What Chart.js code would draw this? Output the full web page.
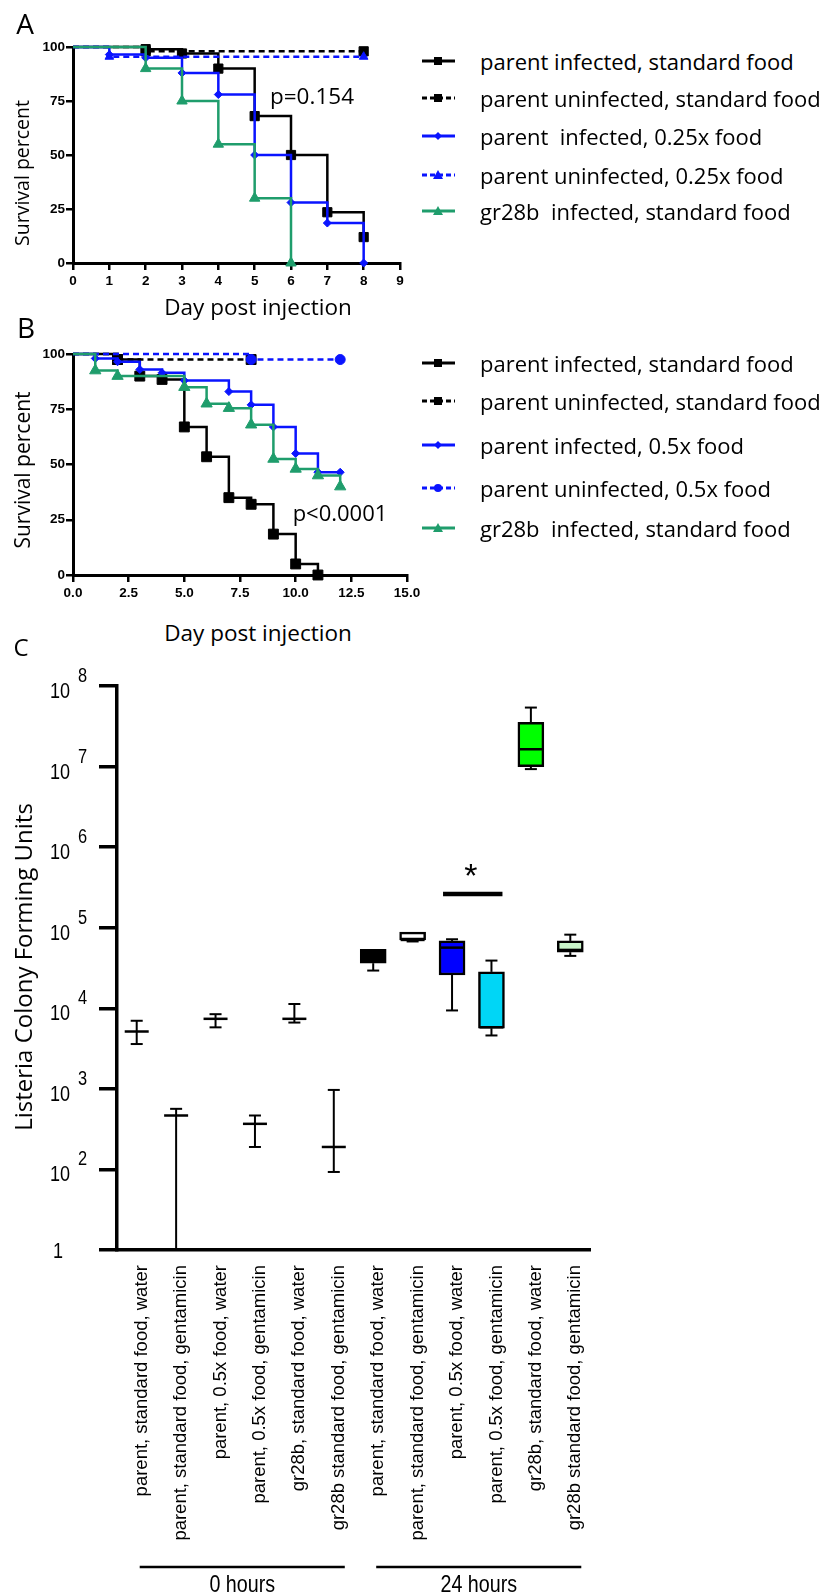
<!DOCTYPE html>
<html>
<head>
<meta charset="utf-8">
<script src="https://cdn.jsdelivr.net/npm/chart.js@4.4.1/dist/chart.umd.min.js"></script>
<style>
  html, body { margin: 0; padding: 0; background: #fff; }
  #page { position: relative; width: 828px; height: 1596px; overflow: hidden; font-family: "Open Sans", sans-serif; color: #000; }
  canvas { position: absolute; }
  .txt { position: absolute; white-space: pre; line-height: 1; transform: translate(-50%, -50%); }
  .rot { transform: translate(-50%, -50%) rotate(-90deg); }
  .legend-row { position: absolute; left: 421px; display: flex; align-items: center; transform: translateY(-50%); }
  .legend-row span { margin-left: 23px; font-size: 22px; line-height: 1; white-space: pre; }
</style>
</head>
<body>
<div id="page">
  <canvas id="chartA" width="420" height="300" style="left:0;top:0"></canvas>
  <canvas id="chartB" width="430" height="290" style="left:0;top:320px"></canvas>
  <canvas id="chartC" width="620" height="936" style="left:0;top:660px"></canvas>

  <div class="txt" style="left:25px;top:23px;font-size:28px">A</div>
  <div class="txt" style="left:26px;top:327px;font-size:28px">B</div>
  <div class="txt" style="left:21px;top:647px;font-size:24px">C</div>

  <div class="txt rot" style="left:22px;top:173px;font-size:19.5px">Survival percent</div>
  <div class="txt rot" style="left:22px;top:470px;font-size:21px">Survival percent</div>
  <div class="txt" style="left:258px;top:307px;font-size:22.5px">Day post injection</div>
  <div class="txt" style="left:258px;top:633px;font-size:22.5px">Day post injection</div>
  <div class="txt" style="left:312px;top:96px;font-size:22.5px">p=0.154</div>
  <div class="txt" style="left:340px;top:512px;font-size:22px">p&lt;0.0001</div>
  <div class="txt rot" style="left:23px;top:967px;font-size:24px">Listeria Colony Forming Units</div>

  <div id="legendA"></div>
  <div id="legendB"></div>
</div>

<script>
// ---------- Panel A: survival (%) by day post injection ----------
const aXTicks = [0, 1, 2, 3, 4, 5, 6, 7, 8, 9];
const aYTicks = [0, 25, 50, 75, 100];
const aLabels = ['parent infected, standard food', 'parent uninfected, standard food',
                 'parent  infected, 0.25x food', 'parent uninfected, 0.25x food',
                 'gr28b  infected, standard food'];
const aBlackSolidDays = [0, 2, 3, 4, 5, 6, 7, 8];
const aBlackSolidPct  = [100, 99, 97, 90, 68, 50, 23.5, 12];
const aBlackDashDays  = [0, 2, 8];
const aBlackDashPct   = [100, 98, 98];
const aBlueSolidDays  = [0, 1, 2, 3, 4, 5, 6, 7, 8];
const aBlueSolidPct   = [100, 96.5, 95, 88, 78, 50, 28, 18.5, 0];
const aBlueDashDays   = [0, 1, 8];
const aBlueDashPct    = [100, 95.5, 95.5];
const aGreenDays      = [0, 2, 3, 4, 5, 6];
const aGreenPct       = [100, 90, 75, 55, 30, 0];

// ---------- Panel B ----------
const bXTicks = [0, 2.5, 5, 7.5, 10, 12.5, 15];
const bXTickLabels = ['0.0', '2.5', '5.0', '7.5', '10.0', '12.5', '15.0'];
const bYTicks = [0, 25, 50, 75, 100];
const bLabels = ['parent infected, standard food', 'parent uninfected, standard food',
                 'parent infected, 0.5x food', 'parent uninfected, 0.5x food',
                 'gr28b  infected, standard food'];
const bBlackSolidDays = [0, 2, 3, 4, 5, 6, 7, 8, 9, 10, 11];
const bBlackSolidPct  = [100, 97.5, 90, 88.5, 67, 53.5, 35, 32, 18.5, 5, 0];
const bBlackDashDays  = [0, 2, 8];
const bBlackDashPct   = [100, 97.5, 97.5];
const bBlueSolidDays  = [0, 1, 2, 3, 4, 5, 7, 8, 9, 10, 11, 12];
const bBlueSolidPct   = [100, 98, 96.5, 93, 91.5, 88, 83, 77, 67, 55, 46.5, 46.5];
const bBlueDashDays   = [0, 8, 12];
const bBlueDashPct    = [100, 97.5, 97.5];
const bGreenDays      = [0, 1, 2, 5, 6, 7, 8, 9, 10, 11, 12];
const bGreenPct       = [100, 92.5, 90, 85, 77.5, 75.5, 68, 52.5, 48, 45, 40];

// ---------- Panel C: Listeria CFU box plots ----------
const cfuGroups = ['parent, standard food, water', 'parent, standard food, gentamicin',
                   'parent, 0.5x food, water', 'parent, 0.5x food, gentamicin',
                   'gr28b, standard food, water', 'gr28b standard food, gentamicin',
                   'parent, standard food, water', 'parent, standard food, gentamicin',
                   'parent, 0.5x food, water', 'parent, 0.5x food, gentamicin',
                   'gr28b, standard food, water', 'gr28b standard food, gentamicin'];
const cfuMin    = [3600, 10, 5800, 190, 6650, 93, 29400, 67500, 9400, 4600, 9.3e6, 44700];
const cfuQ1     = [5150, 467, 7400, 368, 7400, 190, 36300, 70500, 25900, 5660, 1.0e7, 49700];
const cfuMedian = [5150, 467, 7400, 368, 7400, 190, 45000, 70500, 56600, 5800, 1.64e7, 53000];
const cfuQ3     = [5150, 467, 7400, 368, 7400, 190, 54100, 88000, 68500, 28300, 3.55e7, 68500];
const cfuMax    = [7000, 565, 8450, 467, 11300, 970, 54100, 88000, 71900, 39100, 5.4e7, 82000];
const cfuTickExps = [1, 2, 3, 4, 5, 6, 7, 8];
const timeGroupLabels = ['0 hours', '24 hours'];
const timeGroupFirst = [0, 6];
const timeGroupLast = [5, 11];
const sigPair = [8, 9];
const sigLevel = 2.62e5;

const boxFill = ['#fff', '#fff', '#fff', '#fff', '#fff', '#fff',
                 '#000000', '#ffffff', '#0000ff', '#00d6f6', '#00ff00', '#c9f5c9'];
const BLUE = '#0a14ff';
const GREEN = '#1f9d6c';

function kmSet(label, days, pct, color, dashed, pointStyle, radius, order) {
  return {
    label: label,
    data: days.map((d, i) => ({ x: d, y: pct[i] })),
    borderColor: color,
    backgroundColor: color,
    pointBackgroundColor: color,
    pointBorderColor: color,
    pointBorderWidth: 1,
    borderWidth: 2.5,
    borderDash: dashed ? [6, 4] : [],
    stepped: 'before',
    pointStyle: pointStyle,
    pointRadius: days.map((d, i) => (i === 0 ? 0 : radius)),
    pointHoverRadius: 0,
    clip: false,
    order: order
  };
}

function axisStyle() {
  return {
    grid: { display: true, drawOnChartArea: false, drawTicks: true, tickLength: 7, lineWidth: 2.5, color: '#000' },
    border: { display: true, width: 3, color: '#000' }
  };
}

function survivalOptions(xMax, xTicks, xLabels, yTicks, xHeight, pad) {
  const tickFont = { family: '"Liberation Sans", Arial, sans-serif', weight: 'bold', size: 13.5 };
  return {
    responsive: false,
    animation: false,
    devicePixelRatio: 1,
    layout: { padding: pad },
    plugins: { legend: { display: false }, tooltip: { enabled: false } },
    scales: {
      x: Object.assign(axisStyle(), {
        type: 'linear', min: 0, max: xMax,
        afterBuildTicks: s => { s.ticks = xTicks.map(v => ({ value: v })); },
        ticks: { font: tickFont, color: '#000', padding: 3, maxRotation: 0,
                 callback: (v, i) => xLabels[i] },
        afterFit: s => { s.height = xHeight; }
      }),
      y: Object.assign(axisStyle(), {
        type: 'linear', min: 0, max: 100,
        afterBuildTicks: s => { s.ticks = yTicks.map(v => ({ value: v })); },
        ticks: { font: tickFont, color: '#000', padding: 1 },
        afterFit: s => { s.width = 73; }
      })
    }
  };
}

const dsA = [
  kmSet(aLabels[0], aBlackSolidDays, aBlackSolidPct, '#000', false, 'rect', 6.5, 3),
  kmSet(aLabels[1], aBlackDashDays, aBlackDashPct, '#000', true, 'rect', 6.5, 4),
  kmSet(aLabels[2], aBlueSolidDays, aBlueSolidPct, BLUE, false, 'rectRot', 4, 1),
  kmSet(aLabels[3], aBlueDashDays, aBlueDashPct, BLUE, true, 'triangle', 5, 2),
  kmSet(aLabels[4], aGreenDays, aGreenPct, GREEN, false, 'triangle', 6, 0)
];
const dsB = [
  kmSet(bLabels[0], bBlackSolidDays, bBlackSolidPct, '#000', false, 'rect', 7, 3),
  kmSet(bLabels[1], bBlackDashDays, bBlackDashPct, '#000', true, 'rect', 7, 4),
  kmSet(bLabels[2], bBlueSolidDays, bBlueSolidPct, BLUE, false, 'rectRot', 4, 1),
  kmSet(bLabels[3], bBlueDashDays, bBlueDashPct, BLUE, true, 'circle', 5, 2),
  kmSet(bLabels[4], bGreenDays, bGreenPct, GREEN, false, 'triangle', 6.5, 0)
];

new Chart(document.getElementById('chartA'), {
  type: 'line',
  data: { datasets: dsA },
  options: survivalOptions(9, aXTicks, aXTicks.map(String), aYTicks, 37, { top: 47, right: 20, bottom: 0, left: 0 })
});
new Chart(document.getElementById('chartB'), {
  type: 'line',
  data: { datasets: dsB },
  options: survivalOptions(15, bXTicks, bXTickLabels, bYTicks, 35, { top: 34, right: 23, bottom: 0, left: 0 })
});

// legend rows built from the dataset styles
function legendSymbol(ds) {
  const c = ds.borderColor;
  const dash = ds.borderDash.length ? ' stroke-dasharray="5 3"' : '';
  const cx = 17, cy = 8;
  let m = '';
  if (ds.pointStyle === 'rect') m = `<rect x="${cx - 4}" y="${cy - 4}" width="8" height="8" fill="${c}"/>`;
  if (ds.pointStyle === 'rectRot') m = `<polygon points="${cx},${cy - 4} ${cx + 4},${cy} ${cx},${cy + 4} ${cx - 4},${cy}" fill="${c}"/>`;
  if (ds.pointStyle === 'triangle') m = `<polygon points="${cx},${cy - 5} ${cx + 5},${cy + 4} ${cx - 5},${cy + 4}" fill="${c}"/>`;
  if (ds.pointStyle === 'circle') m = `<circle cx="${cx}" cy="${cy}" r="4" fill="${c}"/>`;
  return `<svg width="36" height="16"><line x1="1" y1="8" x2="34" y2="8" stroke="${c}" stroke-width="3"${dash}/>${m}</svg>`;
}
function buildLegend(id, datasets, rows) {
  document.getElementById(id).innerHTML = datasets.map((ds, i) =>
    `<div class="legend-row" style="top:${rows[i]}px">${legendSymbol(ds)}<span>${ds.label}</span></div>`
  ).join('');
}
buildLegend('legendA', dsA, [61, 98, 136, 175, 211]);
buildLegend('legendB', dsB, [363, 401, 445, 488, 528]);

// whiskers, medians, log tick labels, significance bar and time groups
function narrowText(ctx, text, x, y, size, align) {
  ctx.save();
  ctx.translate(x, y);
  ctx.scale(0.82, 1);
  ctx.font = size + 'px "Liberation Sans", Arial, sans-serif';
  ctx.textAlign = align;
  ctx.textBaseline = 'alphabetic';
  ctx.fillStyle = '#000';
  ctx.fillText(text, 0, 0);
  ctx.restore();
}

const cfuPlugin = {
  id: 'cfuExtras',
  afterDatasetsDraw(chart) {
    const ctx = chart.ctx, xs = chart.scales.x, ys = chart.scales.y;
    const seg = (x1, y1, x2, y2, w) => {
      ctx.lineWidth = w; ctx.beginPath(); ctx.moveTo(x1, y1); ctx.lineTo(x2, y2); ctx.stroke();
    };
    ctx.save();
    ctx.strokeStyle = '#000';
    cfuGroups.forEach((g, i) => {
      const px = xs.getPixelForValue(i);
      const yMin = ys.getPixelForValue(cfuMin[i]);
      const yQ1 = ys.getPixelForValue(cfuQ1[i]);
      const yMed = ys.getPixelForValue(cfuMedian[i]);
      const yQ3 = ys.getPixelForValue(cfuQ3[i]);
      const yMax = ys.getPixelForValue(cfuMax[i]);
      if (cfuMax[i] > cfuQ3[i]) { seg(px, yQ3, px, yMax, 2); seg(px - 6, yMax, px + 6, yMax, 2); }
      if (cfuMin[i] < cfuQ1[i]) {
        seg(px, yQ1, px, yMin, 2);
        if (cfuMin[i] > ys.min) seg(px - 6, yMin, px + 6, yMin, 2);
      }
      seg(px - 12, yMed, px + 12, yMed, 2.5);
    });
    ctx.restore();
  },
  afterDraw(chart) {
    const ctx = chart.ctx, xs = chart.scales.x, ys = chart.scales.y;
    const seg = (x1, y1, x2, y2, w) => {
      ctx.lineWidth = w; ctx.beginPath(); ctx.moveTo(x1, y1); ctx.lineTo(x2, y2); ctx.stroke();
    };
    ctx.save();
    ctx.strokeStyle = '#000';
    ctx.fillStyle = '#000';
    // log axis labels: 1, 10^2 ... 10^8
    cfuTickExps.forEach((e, i) => {
      const py = ys.getPixelForValue(Math.pow(10, e));
      if (i === 0) {
        narrowText(ctx, '1', ys.right - 54, py + 8, 22, 'right');
      } else {
        narrowText(ctx, '10', ys.right - 47, py + 12, 22, 'right');
        narrowText(ctx, String(e), ys.right - 39, py - 4, 20, 'left');
      }
    });
    // significance bar
    const sx1 = xs.getPixelForValue(sigPair[0]) - 9;
    const sx2 = xs.getPixelForValue(sigPair[1]) + 11;
    const sy = ys.getPixelForValue(sigLevel);
    seg(sx1, sy, sx2, sy, 4.5);
    ctx.font = '34px "Liberation Sans", Arial, sans-serif';
    ctx.textAlign = 'center';
    ctx.textBaseline = 'alphabetic';
    ctx.fillText('*', (sx1 + sx2) / 2 - 2, sy - 7);
    // time groups under the category labels
    timeGroupLabels.forEach((lab, i) => {
      const x1 = xs.getPixelForValue(timeGroupFirst[i]) + 3;
      const x2 = xs.getPixelForValue(timeGroupLast[i]) + 11;
      seg(x1, chart.height - 29, x2, chart.height - 29, 2.5);
      narrowText(ctx, lab, (x1 + x2) / 2, chart.height - 4, 24, 'center');
    });
    ctx.restore();
  }
};

new Chart(document.getElementById('chartC'), {
  type: 'bar',
  data: {
    labels: cfuGroups,
    datasets: [{
      data: cfuQ1.map((q, i) => [q, cfuQ3[i]]),
      backgroundColor: boxFill,
      borderColor: '#000',
      borderWidth: 2.5,
      borderSkipped: false,
      barThickness: 26
    }]
  },
  options: {
    responsive: false,
    animation: false,
    devicePixelRatio: 1,
    layout: { padding: { top: 26, right: 30, bottom: 0, left: 0 } },
    plugins: { legend: { display: false }, tooltip: { enabled: false } },
    scales: {
      x: {
        type: 'category',
        offset: true,
        grid: { display: false },
        border: { display: true, width: 3.5, color: '#000' },
        ticks: {
          autoSkip: false, minRotation: 90, maxRotation: 90, padding: 7, labelOffset: 5,
          font: { family: '"Liberation Sans", Arial, sans-serif', size: 18.5 }, color: '#000'
        },
        afterFit: s => { s.height = 346; }
      },
      y: {
        type: 'logarithmic',
        min: 10, max: 1e8,
        afterBuildTicks: s => { s.ticks = cfuTickExps.map(e => ({ value: Math.pow(10, e) })); },
        ticks: { callback: () => '' },
        grid: { display: true, drawOnChartArea: false, drawTicks: true, tickLength: 18, lineWidth: 3.5, color: '#000' },
        border: { display: true, width: 3.5, color: '#000' },
        afterFit: s => { s.width = 117; }
      }
    }
  },
  plugins: [cfuPlugin]
});
</script>
</body>
</html>
